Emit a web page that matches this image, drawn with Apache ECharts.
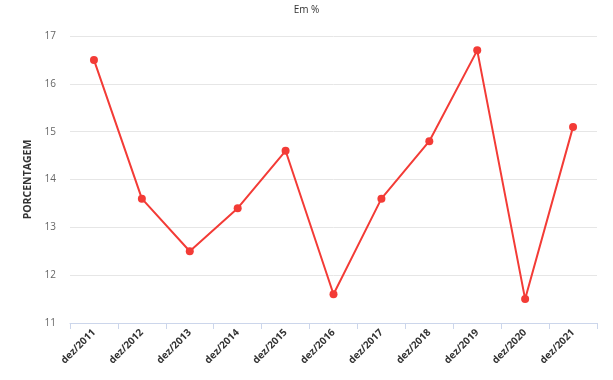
<!DOCTYPE html>
<html><head><meta charset="utf-8">
<script src="https://cdn.jsdelivr.net/npm/echarts@6/dist/echarts.min.js"></script>
<style>html,body{margin:0;padding:0;background:#fff}#c{width:613px;height:380px}</style>
</head><body><div id="c"></div>
<script>
const categories = ['dez/2011','dez/2012','dez/2013','dez/2014','dez/2015','dez/2016','dez/2017','dez/2018','dez/2019','dez/2020','dez/2021'];
const values = [16.5, 13.6, 12.5, 13.4, 14.6, 11.6, 13.6, 14.8, 16.7, 11.5, 15.1];
const yTicks = [11, 12, 13, 14, 15, 16, 17];
const chart = echarts.init(document.getElementById('c'));
chart.setOption({
  animation: false,
  title: { text: 'Em %', left: 'center', top: 0, textStyle: { fontFamily: 'Open Sans', fontSize: 10, fontWeight: 'normal', color: '#333' } },
  grid: { left: 70, right: 16, top: 36, bottom: 57 },
  xAxis: {
    type: 'category', data: categories, boundaryGap: true,
    axisLine: { lineStyle: { color: '#ccd6eb' } },
    axisTick: { show: true, length: 6, lineStyle: { color: '#ccd6eb' } },
    axisLabel: { rotate: 45, fontFamily: 'Open Sans', fontSize: 10, fontWeight: 'bold', color: '#333', margin: 8 }
  },
  yAxis: {
    type: 'value', min: yTicks[0], max: yTicks[yTicks.length-1], interval: 1,
    name: 'PORCENTAGEM', nameLocation: 'middle', nameGap: 26, nameRotate: 90,
    nameTextStyle: { fontFamily: 'Open Sans', fontSize: 10.5, fontWeight: 'bold', color: '#333' },
    axisLine: { show: false }, axisTick: { show: false },
    axisLabel: { fontFamily: 'Open Sans', fontSize: 10, color: '#666', margin: 14 },
    splitLine: { lineStyle: { color: '#e6e6e6' } }
  },
  series: [{
    type: 'line', data: values, symbol: 'circle', symbolSize: 8,
    lineStyle: { color: '#f33b36', width: 2 }, itemStyle: { color: '#f33b36' }
  }]
});
</script></body></html>
